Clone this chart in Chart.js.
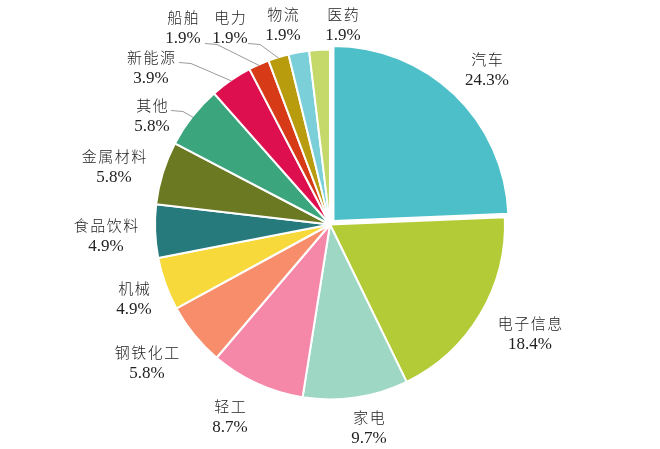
<!DOCTYPE html>
<html>
<head>
<meta charset="utf-8">
<script src="https://cdn.jsdelivr.net/npm/chart.js@4.4.1/dist/chart.umd.min.js"></script>
<style>
  html, body { margin:0; padding:0; background:#fff; }
  #wrap { width:660px; height:449px; position:relative; }
</style>
</head>
<body>
<div id="wrap"><canvas id="pie"></canvas></div>
<script>
// 行业分布
const sectors = ['汽车','电子信息','家电','轻工','钢铁化工','机械','食品饮料','金属材料','其他','新能源','船舶','电力','物流','医药'];
const shares  = [24.3, 18.4, 9.7, 8.7, 5.8, 4.9, 4.9, 5.8, 5.8, 3.9, 1.9, 1.9, 1.9, 1.9];
const colors  = ['#4dbfc9','#b3cb36','#9ed8c5','#f587a9','#f78d6a','#f7d93c','#267a7c',
                 '#6b7a22','#3ba57e','#dd0f4e','#d63a16','#b89c0e','#7acfd8','#c5d86a'];

// label block centres, relative to the pie centre
const labelAt = [[157,-155],[200,109],[39,203],[-100,192],[-183,138],[-196,74],[-224,11],
                 [-216,-58],[-178,-109],[-179,-157],[-147,-197],[-100,-197],[-47,-200],[13,-200]];
// leader lines: start relative to label centre (only for the crowded ones)
const leaders = { 8:[19,-5], 9:[28,-5], 10:[22,16], 11:[18,16] };

const outsideLabels = {
  id:'outsideLabels',
  afterDatasetsDraw(chart) {
    const ctx = chart.ctx;
    const arcs = chart.getDatasetMeta(0).data;
    const cx = arcs[0].x, cy = arcs[0].y;
    ctx.save();
    // leader lines
    ctx.strokeStyle = '#9a9a9a';
    ctx.lineWidth = 1;
    Object.keys(leaders).forEach(k => {
      const i = +k, a = arcs[i];
      const mid = (a.startAngle + a.endAngle) / 2;
      const sx = cx + labelAt[i][0] + leaders[i][0];
      const sy = cy + labelAt[i][1] + leaders[i][1];
      const ex = a.x + Math.cos(mid) * (a.outerRadius - 1);
      const ey = a.y + Math.sin(mid) * (a.outerRadius - 1);
      ctx.beginPath();
      ctx.moveTo(sx, sy);
      ctx.lineTo(sx + 12, sy + 1);
      ctx.lineTo(ex, ey);
      ctx.stroke();
    });
    // text
    ctx.fillStyle = '#222';
    ctx.textAlign = 'center';
    ctx.textBaseline = 'middle';
    sectors.forEach((name, i) => {
      const x = cx + labelAt[i][0], y = cy + labelAt[i][1];
      ctx.font = '300 15px "Noto Sans CJK SC", sans-serif';
      ctx.letterSpacing = '1.5px';
      ctx.fillText(name, x + 0.75, y - 10);
      ctx.font = '17px "Liberation Serif", "Times New Roman", serif';
      ctx.letterSpacing = '0px';
      ctx.fillText(shares[i].toFixed(1) + '%', x, y + 11);
    });
    ctx.restore();
  }
};

new Chart(document.getElementById('pie'), {
  type:'pie',
  data:{ labels:sectors, datasets:[{
    data:shares, backgroundColor:colors,
    borderColor:'#ffffff', borderWidth:2,
    // chart.js v4 translates an arc by offset/4
    offset: sectors.map((_, i) => i === 0 ? 20 : 0)
  }] },
  options:{
    responsive:true, maintainAspectRatio:false, animation:false,
    radius:175,
    layout:{ padding:0 },
    plugins:{ legend:{display:false}, tooltip:{enabled:false} }
  },
  plugins:[outsideLabels]
});
</script>
</body>
</html>
